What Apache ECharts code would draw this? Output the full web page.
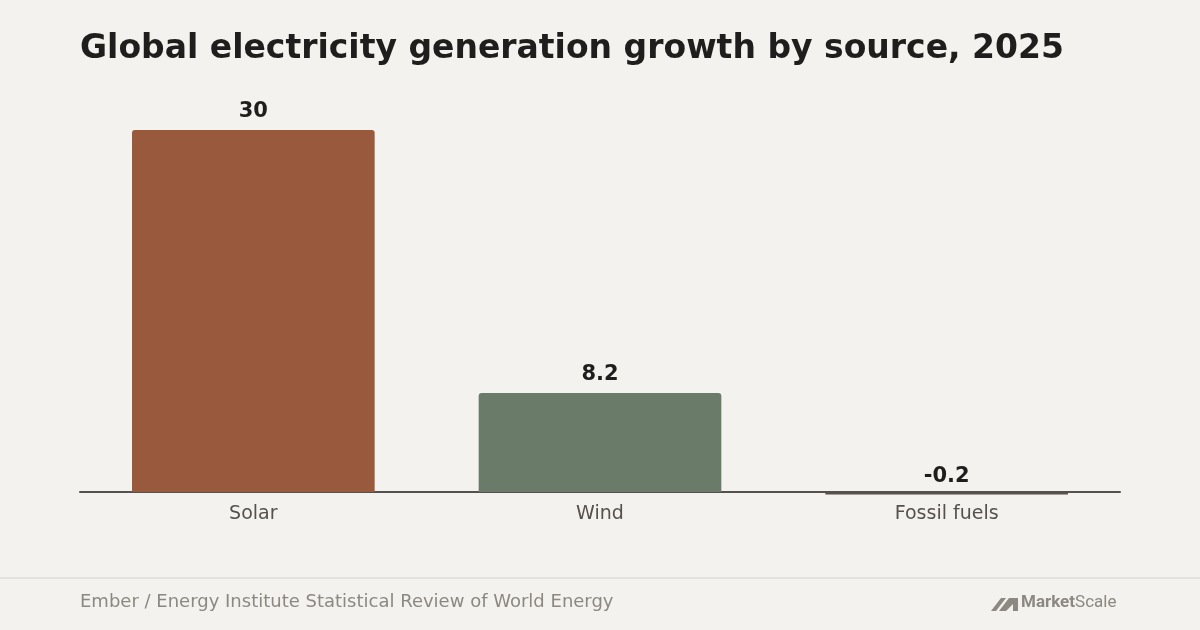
<!DOCTYPE html>
<html><head><meta charset="utf-8">
<script src="https://cdn.jsdelivr.net/npm/echarts@6/dist/echarts.min.js"></script>
<style>html,body{margin:0;background:#f4f2ee}#c{width:1200px;height:630px}</style>
</head><body><div id="c"></div>
<script>
const categories = ['Solar', 'Wind', 'Fossil fuels'];
const values = [30, 8.2, -0.2];
const colors = ['#99593c', '#6b7b6a', '#55514c'];
const F = 'DejaVu Sans';
const chart = echarts.init(document.getElementById('c'));
chart.setOption({
  backgroundColor: '#f4f2ee',
  animation: false,
  title: { text: 'Global electricity generation growth by source, 2025', left: 80, top: 33, padding: 0,
    textStyle: { fontFamily: F, fontSize: 33, fontWeight: 'bold', color: '#1f1e1c' } },
  grid: { left: 80, right: 80, top: 130, bottom: 135.6 },
  xAxis: { type: 'category', data: categories,
    axisLine: { onZero: true, lineStyle: { color: '#55514c', width: 2 } },
    axisTick: { show: false },
    axisLabel: { fontFamily: F, fontSize: 19, color: '#55514c', margin: 10 } },
  yAxis: { type: 'value', min: -0.2, max: 30, show: false, splitLine: { show: false } },
  series: [{ type: 'bar', barWidth: '70%',
    data: values.map((v, i) => ({ value: v, itemStyle: { color: colors[i], borderRadius: v > 0 ? [3,3,0,0] : 0 },
      label: v < 0 ? { distance: 5 } : undefined })),
    label: { show: true, position: 'top', distance: 8, fontFamily: F, fontSize: 21, fontWeight: 'bold', color: '#1f1e1c' } }],
  graphic: [
    { type: 'rect', shape: { x: 0, y: 577, width: 1200, height: 2 }, style: { fill: '#e6e3de' } },
    { type: 'text', left: 80, top: 593, style: { text: 'Ember / Energy Institute Statistical Review of World Energy', font: '18px "DejaVu Sans"', fill: '#8c8882' } },
    { type: 'polygon', shape: { points: [[991,611],[1001,598],[1006,598],[996,611]] }, style: { fill: '#8c8882' } },
    { type: 'polygon', shape: { points: [[999,611],[1009,598],[1018,598],[1018,611],[1013,611],[1013,604],[1006,611]] }, style: { fill: '#8c8882' } },
    { type: 'text', left: 1021, top: 594, style: { text: '{a|Market}{b|Scale}', rich: {
      a: { font: 'bold 17px Roboto', fill: '#8c8882', color: '#8c8882' },
      b: { font: '17px Roboto', fill: '#8c8882', color: '#8c8882' } } } }
  ]
});
</script></body></html>
